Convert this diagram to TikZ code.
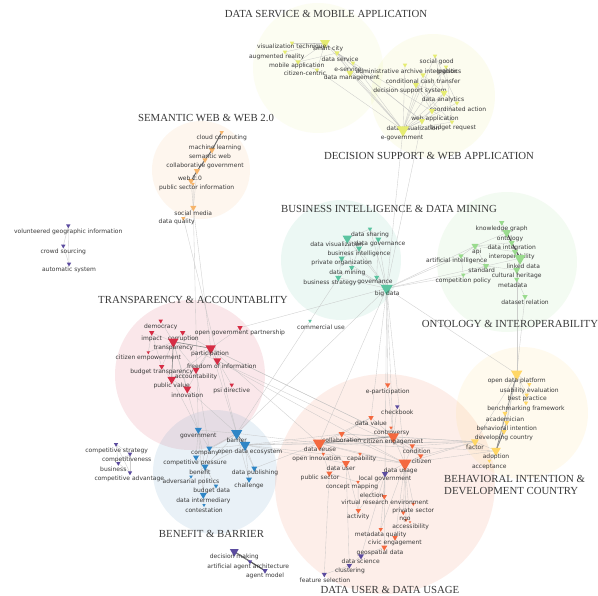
\documentclass[tikz,border=0pt]{standalone}
\usepackage{fontspec}
\setmainfont{Liberation Serif}
\newfontfamily\labfont{DejaVu Sans}
\usetikzlibrary{shapes.geometric}
\pgfdeclarelayer{bg}
\pgfdeclarelayer{edge}
\pgfsetlayers{bg,edge,main}
\definecolor{cDS}{HTML}{E6EC72}
\definecolor{cSW}{HTML}{F6B46A}
\definecolor{cBI}{HTML}{5BC4A0}
\definecolor{cON}{HTML}{9ADB8E}
\definecolor{cTR}{HTML}{D62C44}
\definecolor{cBB}{HTML}{2F86C6}
\definecolor{cDU}{HTML}{F4693F}
\definecolor{cBH}{HTML}{FFD766}
\definecolor{cPU}{HTML}{5B4B9F}
\definecolor{txt}{HTML}{3A3A3A}
\tikzset{
  mk/.style={regular polygon, regular polygon sides=3, shape border rotate=180, inner sep=0pt, draw=none, fill=#1},
  lab/.style={font=\labfont\fontsize{6}{7}\selectfont, text=txt, inner sep=0pt},
  ttl/.style={font=\fontsize{10.8}{12}\selectfont, text=txt, inner sep=0pt},
  ed/.style={draw=gray!50, line width=0.35pt, opacity=0.75},
  eds/.style={draw=gray!90, line width=0.6pt},
  edd/.style={draw=black!65, line width=1.1pt},
  clu/.style={fill=#1, fill opacity=0.11, draw=none}
}
\newcommand{\kw}[8]{\node[mk=#5,minimum size=#4pt] (#1) at (#2,#3) {}; \node[lab] (#1t) at (#6,#7) {#8};}
\begin{document}
\begin{tikzpicture}[x=1pt,y=-1pt]
\useasboundingbox (0,0) rectangle (598,596);
% ---------- cluster circles
\begin{pgfonlayer}{bg}
\fill[white] (0,0) rectangle (598,596);
\fill[clu=cDS!80!white] (318,68) circle (65);
\fill[clu=cDS] (433,96) circle (62);
\fill[clu=cSW] (201,170) circle (49);
\fill[clu=cBI] (341,260) circle (60);
\fill[clu=cON] (507,262) circle (70);
\fill[clu=cTR] (190,375) circle (75);
\fill[clu=cBB!85!gray] (215,472) circle (62);
\fill[clu=cDU] (385,484) circle (110);
\fill[clu=cBH] (522,413) circle (66);
\end{pgfonlayer}
% ---------- titles
\node[ttl] (T1) at (326,14) {DATA SERVICE \& MOBILE APPLICATION};
\node[ttl] (T2) at (206,118) {SEMANTIC WEB \& WEB 2.0};
\node[ttl] (T3) at (429,156) {DECISION SUPPORT \& WEB APPLICATION};
\node[ttl] (T4) at (389,209) {BUSINESS INTELLIGENCE \& DATA MINING};
\node[ttl] (T5) at (193,300) {TRANSPARENCY \& ACCOUNTABLITY};
\node[ttl] (T6) at (510,324) {ONTOLOGY \& INTEROPERABILITY};
\node[ttl,anchor=west] (T7a) at (444,479) {BEHAVIORAL INTENTION \&};
\node[ttl,anchor=west] (T7b) at (444,491.5) {DEVELOPMENT COUNTRY};
\node[ttl] (T8) at (211.5,534) {BENEFIT \& BARRIER};
\node[ttl] (T9) at (390,590) {DATA USER \& DATA USAGE};
% ---------- data service
\kw{ds1}{325}{43}{11}{cDS}{328}{49}{smart city}
\kw{ds2}{292}{43}{5}{cDS}{291.7}{46.7}{visualization technique}
\kw{ds3}{285}{52}{5}{cDS}{276.7}{56.7}{augmented reality}
\kw{ds4}{337}{53}{6}{cDS}{340}{59}{data service}
\kw{ds5}{298}{62}{6}{cDS}{296.7}{66}{mobile application}
\kw{ds6}{353}{63}{5}{cDS}{348}{69}{e-service}
\kw{ds7}{317}{70}{5}{cDS}{305}{73}{citizen-centric}
\kw{ds8}{350}{73}{8}{cDS}{351.7}{77.7}{data management}
% ---------- decision support
\kw{dss1}{405}{65}{5}{cDS}{406.7}{71.7}{administrative archive integration}
\kw{dss2}{435}{56}{5}{cDS}{436.7}{61.7}{social good}
\kw{dss3}{446}{67}{5}{cDS}{449}{71.7}{logistics}
\kw{dss4}{423}{75}{6}{cDS}{423}{81}{conditional cash transfer}
\kw{dss5}{416}{85}{7}{cDS}{410}{91}{decision support system}
\kw{dss6}{444}{93}{8}{cDS}{443}{100}{data analytics}
\kw{dss7}{457}{103}{5}{cDS}{458}{109}{coordinated action}
\kw{dss8}{432}{111}{7}{cDS}{435}{119}{web application}
\kw{dss9}{422}{121}{7}{cDS}{413}{128}{data visualization}
\kw{dss10}{452}{122}{5}{cDS}{453}{128}{budget request}
\kw{dss11}{403}{130}{14}{cDS}{402}{138}{e-government}
% ---------- semantic web
\kw{sw1}{221.7}{132.3}{5}{cSW}{221.7}{138.3}{cloud computing}
\kw{sw2}{212}{150}{7}{cSW}{215}{147.7}{machine learning}
\kw{sw3}{205}{160}{6}{cSW}{210}{156.7}{semantic web}
\kw{sw4}{197}{171}{7}{cSW}{205}{165.7}{collaborative government}
\kw{sw5}{191}{181}{7}{cSW}{190}{178.3}{web 2.0}
\kw{sw6}{193}{184}{4}{cSW}{196.7}{188.3}{public sector information}
\kw{sw7}{193.3}{207.7}{7}{cSW}{193.3}{213.3}{social media}
\kw{sw8}{183.3}{218.3}{5}{cSW}{176.7}{221.7}{data quality}
% ---------- VGI
\kw{v1}{68.3}{225.7}{5}{cPU}{68.3}{232.3}{volunteered geographic information}
\kw{v2}{63.3}{246}{5}{cPU}{63.3}{252.3}{crowd sourcing}
\kw{v3}{69}{264}{5}{cPU}{69}{270}{automatic system}
% ---------- business intelligence
\kw{bi1}{370}{229}{5}{cBI}{370}{235}{data sharing}
\kw{bi2}{347.3}{238.3}{11}{cBI}{336.7}{244.3}{data visualization}
\kw{bi3}{378.3}{239.3}{7}{cBI}{380}{244.3}{data governance}
\kw{bi4}{359}{248.3}{7}{cBI}{359}{254.3}{business intelligence}
\kw{bi5}{341.7}{258.3}{7}{cBI}{341.7}{263.3}{private organization}
\kw{bi6}{351.7}{267.7}{6}{cBI}{347.3}{273.3}{data mining}
\kw{bi7}{338.3}{277.7}{7}{cBI}{330}{282.7}{business strategy}
\kw{bi8}{376.7}{277.3}{6}{cBI}{375}{282.7}{governance}
\kw{bi9}{386.7}{288.3}{14}{cBI}{387.3}{294.3}{big data}
\kw{bi10}{310}{321}{4}{cBI}{321}{327}{commercial use}
% ---------- ontology
\kw{on1}{501.7}{222.7}{6}{cON}{501.7}{229}{knowledge graph}
\kw{on2}{506.7}{232.7}{10}{cON}{510}{239}{ontology}
\kw{on3}{511.7}{242.7}{7}{cON}{511.7}{247.7}{data integration}
\kw{on4}{475}{246}{8}{cON}{476.7}{251.7}{api}
\kw{on5}{515}{251.7}{7}{cON}{511.7}{256.7}{interoperability}
\kw{on6}{461}{256}{6}{cON}{456.7}{261}{artificial intelligence}
\kw{on7}{520}{258.3}{13}{cON}{523.3}{266.7}{linked data}
\kw{on8}{486}{266}{7}{cON}{481.7}{270.7}{standard}
\kw{on9}{516.7}{270}{8}{cON}{516.7}{275.7}{cultural heritage}
\kw{on10}{463.3}{275}{5}{cON}{463.3}{280.7}{competition policy}
\kw{on11}{516.7}{279.3}{6}{cON}{512.7}{285.7}{metadata}
\kw{on12}{525}{296.7}{6}{cON}{525}{302.7}{dataset relation}
% ---------- transparency
\kw{t1}{160.7}{321}{5}{cTR}{160.7}{326.7}{democracy}
\kw{t2}{240}{327.7}{6}{cTR}{240}{333.3}{open government partnership}
\kw{t3}{151.7}{332.7}{6}{cTR}{151.7}{339}{impact}
\kw{t4}{182.7}{332.7}{6}{cTR}{183.3}{339}{corruption}
\kw{t5}{173.3}{341.7}{12}{cTR}{173.3}{348.3}{transparency}
\kw{t6}{210.7}{348.3}{12}{cTR}{210}{354.3}{participation}
\kw{t7}{148.3}{352.3}{4}{cTR}{148.3}{357.7}{citizen empowerment}
\kw{t8}{217.3}{360.7}{9}{cTR}{221.7}{366.7}{freedom of information}
\kw{t9}{161.7}{366.7}{6}{cTR}{161.7}{371.7}{budget transparency}
\kw{t10}{196}{370}{8}{cTR}{196}{376.7}{accountability}
\kw{t11}{171.7}{379.3}{10}{cTR}{171.7}{386}{public value}
\kw{t12}{231.7}{385}{5}{cTR}{231.7}{390.7}{psi directive}
\kw{t13}{187.3}{389}{9}{cTR}{187.3}{395}{innovation}
% ---------- benefit & barrier
\kw{b1}{198.3}{430}{8}{cBB}{198.3}{436}{government}
\kw{b2}{236.7}{433.3}{13}{cBB}{236.7}{440.7}{barrier}
\kw{b3}{245}{445}{12}{cBB}{250}{452.3}{open data ecosystem}
\kw{b4}{209.3}{448.3}{7}{cBB}{205}{453.3}{company}
\kw{b5}{196}{457.3}{7}{cBB}{195}{462.7}{competitive pressure}
\kw{b6}{205}{466.7}{8}{cBB}{200}{472.7}{benefit}
\kw{b7}{254.3}{468.3}{7}{cBB}{255}{473.3}{data publishing}
\kw{b8}{191}{476.7}{4}{cBB}{191}{482}{adversarial politics}
\kw{b9}{249}{479.3}{7}{cBB}{249}{485.7}{challenge}
\kw{b10}{216}{486}{5}{cBB}{211.7}{491}{budget data}
\kw{b11}{203.3}{495}{8}{cBB}{203.3}{500.7}{data intermediary}
\kw{b12}{204}{505}{4}{cBB}{204}{510}{contestation}
% ---------- competitive
\kw{c1}{116}{444.3}{5}{cPU}{116.7}{450.7}{competitive strategy}
\kw{c2}{130}{454}{5}{cPU}{126.7}{460}{competitiveness}
\kw{c3}{118.3}{463.3}{5}{cPU}{113.3}{469.3}{business}
\kw{c4}{130}{472.7}{5}{cPU}{129.3}{478.7}{competitive advantage}
% ---------- data user & data usage
\kw{u1}{387.7}{385}{6}{cDU}{387.7}{391.7}{e-participation}
\kw{u2}{397.3}{406.7}{5}{cPU}{397.3}{412}{checkbook}
\kw{u3}{371}{417.7}{6}{cDU}{371}{423.3}{data value}
\kw{u4}{391}{427.7}{4}{cDU}{391.7}{433.3}{controversy}
\kw{u5}{341.7}{434}{7}{cDU}{341.7}{440}{collaboration}
\kw{u6}{393.3}{436.7}{13}{cDU}{393.3}{442.3}{citizen engagement}
\kw{u7}{319.3}{443.3}{15}{cDU}{320}{449.3}{data reuse}
\kw{u8}{412.3}{446}{6}{cDU}{416.7}{451.7}{condition}
\kw{u9}{323.3}{454}{4}{cDU}{316.7}{459.3}{open innovation}
\kw{u10}{360}{454}{4}{cDU}{361.7}{459.3}{capability}
\kw{u11}{420.7}{456}{6}{cDU}{421.7}{461.7}{citizen}
\kw{u12}{346}{463.3}{9}{cDU}{341}{468.3}{data user}
\kw{u13}{405}{463.3}{15}{cDU}{400.7}{470.7}{data usage}
\kw{u14}{329.3}{473.3}{7}{cDU}{320}{478.3}{public sector}
\kw{u15}{385}{474}{7}{cPU}{385}{479.3}{local government}
\kw{u16}{358}{482}{4}{cDU}{352}{487}{concept mapping}
\kw{u17}{384.3}{496.7}{6}{cDU}{371.7}{495.7}{election}
\kw{u18}{413.3}{504}{4}{cDU}{385}{502.7}{virtual research environment}
\kw{u19}{403.3}{512.7}{5}{cDU}{413.3}{510.7}{private sector}
\kw{u20}{358.3}{510.7}{6}{cDU}{358.3}{516.7}{activity}
\kw{u21}{406}{520}{4}{cDU}{405}{519}{ngo}
\kw{u22}{410}{522}{3}{cDU}{410.7}{526.7}{accessibility}
\kw{u23}{380.7}{529.3}{5}{cDU}{380.7}{535}{metadata quality}
\kw{u24}{395}{537.7}{6}{cDU}{395}{543.3}{civic engagement}
\kw{u25}{384.3}{547.3}{7}{cDU}{380}{552.7}{geospatial data}
\kw{p1}{361}{556}{7}{cPU}{360.7}{561.7}{data science}
\kw{p2}{349.3}{565.7}{6}{cPU}{350}{571}{clustering}
\kw{p3}{324.3}{574.3}{6}{cPU}{325}{580}{feature selection}
% ---------- behavioral
\kw{bh1}{516.7}{374}{13}{cBH}{516.7}{380.7}{open data platform}
\kw{bh2}{529.3}{384.3}{5}{cBH}{529.3}{390.7}{usability evaluation}
\kw{bh3}{526.7}{395}{5}{cBH}{527.3}{399.3}{best practice}
\kw{bh4}{526}{403}{5}{cBH}{526}{408.7}{benchmarking framework}
\kw{bh5}{505}{413.3}{6}{cBH}{505}{419}{academician}
\kw{bh6}{506.7}{422.7}{6}{cBH}{506.7}{428.3}{behavioral intention}
\kw{bh7}{504}{431.7}{6}{cBH}{504}{437.7}{developing country}
\kw{bh8}{475}{441.7}{9}{cBH}{475}{447.3}{factor}
\kw{bh9}{496}{450.7}{11}{cBH}{496}{457.3}{adoption}
\kw{bh10}{489.3}{461}{4}{cBH}{489.3}{466.7}{acceptance}
% ---------- decision making
\kw{d1}{234.3}{551.7}{10}{cPU}{234.3}{557.3}{decision making}
\kw{d2}{250}{561.7}{5}{cPU}{248.3}{566.7}{artificial agent architecture}
\kw{d3}{265}{570.7}{6}{cPU}{265}{575.7}{agent model}
% ---------- edges
\begin{pgfonlayer}{edge}
\foreach \a/\b in {dss11/dss1,dss11/dss2,dss11/dss3,dss11/dss4,dss11/dss5,dss11/dss6,dss11/dss7,dss11/dss8,dss11/dss9,dss11/dss10,dss11/ds1,dss11/ds4,dss11/ds6,dss11/ds8,dss11/ds7,dss5/dss6,dss5/dss8,dss4/dss6,dss2/dss7,dss2/dss6,dss3/dss10,dss6/dss7,dss8/dss10,dss5/dss10,dss9/dss6,dss4/dss8,ds1/ds2,ds1/ds3,ds1/ds4,ds1/ds5,ds1/ds7,ds4/ds5,ds4/ds8,ds4/ds6,ds3/ds5,ds5/ds7,ds1/dss9,ds4/dss9,ds4/dss8,
dss11/bi9,dss9/bi9,
sw5/sw6,sw5/sw7,sw6/sw7,sw7/sw8,sw4/sw7,sw7/t6,sw8/b2,sw7/b1,
v1/v2,v2/v3,v1/v3,
bi9/bi1,bi9/bi2,bi9/bi3,bi9/bi4,bi9/bi5,bi9/bi6,bi9/bi7,bi9/bi8,bi2/bi4,bi2/bi6,bi2/bi5,bi4/bi5,bi5/bi7,bi6/bi7,bi1/bi3,bi3/bi8,bi2/bi1,bi4/bi6,
bi9/on4,bi9/on6,bi9/on10,bi9/on8,bi9/t2,bi9/bh1,bi9/u6,bi9/u13,bi9/u3,bi9/u1,bi9/u7,bi9/b2,bi10/b2,bi10/bi7,bi9/u15,
on1/on2,on2/on3,on3/on5,on5/on7,on7/on9,on9/on11,on4/on2,on4/on5,on4/on6,on4/on8,on6/on10,on6/on8,on8/on7,on8/on10,on11/on12,on7/on11,on4/on3,on1/on7,on8/on9,on11/bh1,on12/bh1,
t5/t1,t5/t3,t5/t4,t5/t6,t5/t7,t5/t9,t5/t10,t5/t11,t5/t13,t6/t8,t6/t10,t6/t11,t6/t13,t6/t2,t3/t7,t9/t11,t11/t13,t4/t6,t6/t12,t10/t11,t3/t9,t5/t8,
t5/b1,t11/b1,t13/b2,t6/u7,t6/u6,t8/u13,t6/u8,t8/u11,t10/b4,t6/b2,
b2/b1,b2/b3,b2/b4,b2/b6,b2/b7,b2/b9,b2/b5,b3/b4,b3/b6,b3/b7,b3/b9,b1/b4,b1/b5,b1/b6,b6/b11,b10/b11,b11/b12,b5/b6,b1/b11,b6/b10,b8/b6,b4/b6,
b3/u7,b3/u5,b3/u13,b3/u6,b2/u7,b3/bh8,b7/u7,b3/u12,
c1/c2,c1/c3,c1/c4,c2/c3,c2/c4,c3/c4,
u13/u6,u13/u8,u13/u11,u13/u15,u13/u19,u13/u21,u13/u22,u13/u24,u13/u18,u13/u10,u7/u5,u7/u9,u7/u12,u7/u14,u7/u3,u7/u10,u7/u6,u6/u3,u6/u4,u6/u1,u6/u2,u6/u5,u6/u11,u6/u8,u12/u14,u14/u16,u16/u20,u12/u20,u15/u20,u15/u23,u15/u17,u13/u23,u15/u25,p1/p2,p2/p3,p3/u14,p2/u12,p1/u15,u25/p1,u7/u13,u5/u13,u3/u5,
bh8/u7,bh8/u6,bh8/u13,bh8/u11,bh8/u5,bh9/u13,bh9/u7,bh8/u8,
bh1/bh2,bh1/bh3,bh1/bh4,bh1/bh5,bh1/bh6,bh1/bh7,bh1/bh8,bh2/bh3,bh3/bh4,bh9/bh5,bh9/bh10,bh8/bh9}
  \draw[ed] (\a.center) -- (\b.center);
\foreach \a/\b in {t5/t6,t5/t11,u7/u6,b2/b3,bh1/bh9,bh9/bh6,bh9/bh7,d2/d3}
  \draw[eds] (\a.center) -- (\b.center);
\foreach \a/\b in {sw1/sw2,sw2/sw3,sw3/sw4,sw4/sw5}
  \draw[draw=black!60, line width=0.9pt] (\a.center) -- (\b.center);
\foreach \a/\b in {on2/on7,d1/d3}
  \draw[edd] (\a.center) -- (\b.center);
\draw[eds] (d1.center) -- (d2.center);
\end{pgfonlayer}
\end{tikzpicture}
\end{document}
